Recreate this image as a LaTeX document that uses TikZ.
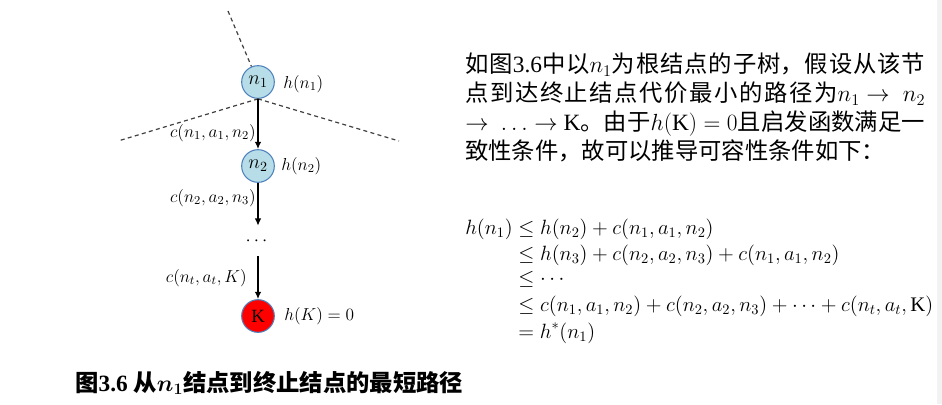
\documentclass[tikz,border=0pt]{standalone}
\usepackage{amsmath}
\usepackage{fontspec}
\setmainfont{Liberation Serif}
\newfontfamily\cjk{Noto Sans CJK SC}
\usetikzlibrary{arrows.meta,positioning}
% scalable math fonts
\DeclareFontShape{OML}{cmm}{m}{it}{<-6>cmmi5<6-7>cmmi6<7-8>cmmi7<8-9>cmmi8<9-10>cmmi9<10-12>cmmi10<12->cmmi12}{\skewchar\font'177}
\DeclareFontShape{OML}{cmm}{b}{it}{<-> cmmib10}{\skewchar\font'177}
\DeclareFontShape{OMS}{cmsy}{m}{n}{<-6>cmsy5<6-7>cmsy6<7-8>cmsy7<8-9>cmsy8<9-10>cmsy9<10->cmsy10}{\skewchar\font'60}
\DeclareFontShape{OMX}{cmex}{m}{n}{<-> cmex10}{}
\DeclareFontShape{OT1}{cmr}{m}{n}{<-6>cmr5<6-7>cmr6<7-8>cmr7<8-9>cmr8<9-10>cmr9<10-12>cmr10<12-17>cmr12<17->cmr17}{}
\definecolor{nodeblue}{HTML}{B7DEE8}
\definecolor{rimblue}{HTML}{4F81BD}
\definecolor{goalred}{HTML}{FF0000}
\definecolor{edgegray}{HTML}{F2F2F2}
\XeTeXlinebreaklocale "zh"
\XeTeXlinebreakskip=0pt plus 4pt
\tolerance=10000
\tikzset{
  statenode/.style={circle, draw=rimblue, fill=nodeblue, line width=0.8pt,
              minimum size=24.5pt, inner sep=0pt, font=\fontsize{15}{15}\selectfont},
  goalnode/.style={statenode, fill=goalred, font=\fontsize{14}{14}\selectfont},
  hlbl/.style={anchor=west, inner sep=0pt, font=\fontsize{13}{13}\selectfont},
  clbl/.style={anchor=east, inner sep=0pt, font=\fontsize{13}{13}\selectfont},
  flow/.style={-{Latex[length=5.5pt,width=5pt]}, draw=black, line width=1.5pt},
  branch/.style={draw=black!75, line width=0.9pt, dash pattern=on 3pt off 2.5pt}
}
\begin{document}
\begin{tikzpicture}[x=0.75pt, y=-0.75pt]
  \useasboundingbox (0,0) rectangle (942,404);
  \fill[edgegray] (937,0) rectangle (942,404);

  % search tree
  \node[statenode] (n1) at (258,82) {$n_1$};
  \node[statenode] (n2) at (258,166) {$n_2$};
  \node[inner sep=0pt, minimum height=22.5pt, font=\fontsize{14}{14}\selectfont] (dots) at (258,241) {$\cdots$};
  \node[goalnode] (K) at (258,316) {K};
  \coordinate (ptop) at (228,11);
  \coordinate (pleft) at (118,141);
  \coordinate (pright) at (399,141);

  \draw[branch] (ptop) -- (n1);
  \draw[branch] (n1.south) -- (pleft);
  \draw[branch] (n1.south) -- (pright);
  \draw[flow] (n1) -- (n2);
  \draw[flow] (n2) -- (dots);
  \draw[flow] (dots) -- (K);

  \node[hlbl] (h1) at (283,84) {$h(n_1)$};
  \node[hlbl] (h2) at (281,166) {$h(n_2)$};
  \node[hlbl] (hK) at (284,316) {$h(K)=0$};
  \node[clbl] (c1) at (256,133) {$c(n_1,a_1,n_2)$};
  \node[clbl] (c2) at (256,198) {$c(n_2,a_2,n_3)$};
  \node[clbl] (c3) at (247,278) {$c(n_t,a_t,K)$};

  % explanation
  \node[anchor=north west, inner sep=0pt, text width=345pt, align=justify,
        font=\fontsize{17.5}{21.75}\selectfont] (para) at (465,53)
    {\thickmuskip=5mu\relax\medmuskip=4mu\relax
     {\cjk 如图}3.6{\cjk 中以}$n_1${\cjk 为根结点的子树，假设从该节}\linebreak
     {\cjk 点到达终止结点代价最小的路径为}$n_1\rightarrow\ n_2$\linebreak
     $\rightarrow\ \ldots\rightarrow$ K{\cjk 。由于}$h(\mathrm{K})=0${\cjk 且启发函数满足一}\linebreak
     {\cjk 致性条件，故可以推导可容性条件如下：}};

  \node[anchor=base west, inner sep=0pt, font=\fontsize{15.5}{14.8}\selectfont] (proof) at (465,234)
    {$\begin{aligned}[t]
      h(n_1) &\le h(n_2)+c(n_1,a_1,n_2)\\
             &\le h(n_3)+c(n_2,a_2,n_3)+c(n_1,a_1,n_2)\\
             &\le \cdots\\
             &\le c(n_1,a_1,n_2)+c(n_2,a_2,n_3)+\cdots+c(n_t,a_t,\mathrm{K})\\
             &= h^*(n_1)
    \end{aligned}$};

  % caption
  \node[anchor=west, inner sep=0pt, font=\fontsize{17.5}{17.5}\selectfont\bfseries] (cap) at (75,383)
    {{\cjk 图}3.6 {\cjk 从}{\boldmath$n_1$}{\cjk 结点到终止结点的最短路径}};
\end{tikzpicture}
\end{document}
